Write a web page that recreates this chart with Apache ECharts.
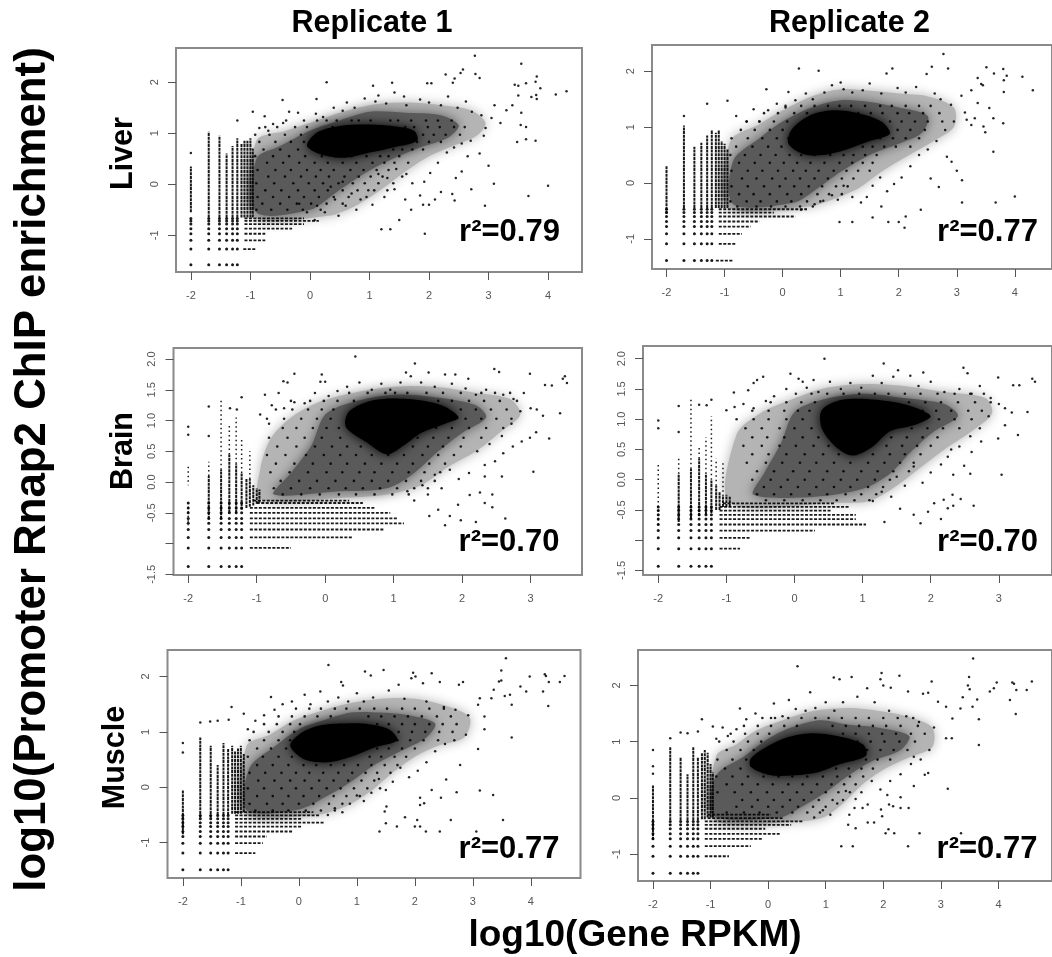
<!DOCTYPE html>
<html>
<head>
<meta charset="utf-8">
<title>Rnap2 ChIP vs RPKM</title>
<style>html,body{margin:0;background:#fff}#main{width:1052px;height:957px}</style>
<script src="https://cdn.jsdelivr.net/npm/echarts@6/dist/echarts.min.js"></script>
</head>
<body>
<div id="main"></div>
<script>
// discrete low-count x positions shared by every panel
var lowCounts = [-2, -1.7, -1.52, -1.4, -1.3, -1.22];
var ticksWide = [-2, -1, 0, 1, 2, 3, 4];
var ticksNarrow = [-2, -1, 0, 1, 2, 3];
var ticksY = [-1, 0, 1, 2];
var ticksBrainY = [-1.5, -1, -0.5, 0, 0.5, 1, 1.5, 2];
var brainYLabels = [-1.5, -0.5, 0, 0.5, 1, 1.5, 2];
var rowTitles = ['Liver', 'Brain', 'Muscle'];
var colTitles = ['Replicate 1', 'Replicate 2'];
var r2Values = ['0.79', '0.77', '0.70', '0.70', '0.77', '0.77'];

// outer / inner / core are the density outlines of each cloud

// ---- Liver, replicate 1
var liver1Levels = [-1.58, -1.27, -1.1, -0.97, -0.87, -0.78, -0.72, -0.67];
var liver1Columns = [[-2,-.55,.35],[-1.7,-.65,1.03],[-1.52,-.65,.95],[-1.4,-.65,.6],[-1.3,-.65,.75],[-1.22,-.65,.9],[-1.15,-.65,.8],[-1.1,-.65,.85],[-1.05,-.65,.85],[-1,-.65,.9],[-.96,-.65,.7]];
var liver1Rows = [[-.67,-1.1,-.1],[-.72,-1.1,.15],[-.78,-1.1,-.1],[-.87,-1.1,-.3],[-.97,-1.1,-.75],[-1.1,-1.1,-.75],[-1.27,-1.12,-.9]];
var liver1Outer = [[-.95,-.62],[.3,-.62],[.8,-.4],[1.2,-.1],[1.6,.25],[2,.55],[2.4,.75],[2.8,.95],[2.95,1.2],[2.7,1.45],[2.2,1.55],[1.6,1.6],[1,1.55],[.5,1.4],[0,1.2],[-.4,1.05],[-.9,.85]];
var liver1Inner = [[-.9,-.55],[0,-.5],[.45,-.15],[.9,.2],[1.3,.45],[1.8,.7],[2.3,.9],[2.5,1.15],[2.2,1.35],[1.6,1.4],[1,1.42],[.5,1.25],[0,1.05],[-.5,.75],[-.9,.5]];
var liver1Core = [[-.05,.75],[.2,.58],[.6,.52],[1,.62],[1.4,.72],[1.8,.85],[1.75,1.05],[1.3,1.15],[.8,1.17],[.4,1.12],[.1,1]];
var liver1Grain = [[1.25,[-.4,.12,.28,.45,.7,.82,1.02,1.35,1.48,1.7,1.95,2.15,2.38]],[1.12,[-.75,-.55,-.25,-.05,.38,.58,.9,1.6,1.75,1.98,2.18,2.42,2.6]],[.97,[-.92,-.68,-.42,-.15,1.72,1.9,2.08,2.28,2.52]],[.83,[-.85,-.58,-.32,-.1,1.62,1.8,2,2.2]],[.68,[-.78,-.5,-.2,.05,1.4,1.55,1.72,1.9]],[.55,[-.92,-.62,-.35,-.08,.2,.42,.7,.95,1.18,1.32,1.5]],[.42,[-.72,-.45,-.18,.08,.3,.55,.78,1.05,1.25,1.42,1.65]],[.28,[-.88,-.58,-.32,-.05,.18,.4,.68,.9,1.12,1.32]],[.15,[-.7,-.42,-.15,.1,.32,.58,.82,1.02,1.22,1.55]],[.02,[-.9,-.6,-.28,-.02,.22,.48,.72,.92,1.15,1.4]],[-.12,[-.75,-.48,-.2,.08,.3,.55,.8,1.08,1.3]],[-.25,[-.88,-.62,-.35,-.1,.15,.4,.65,.95]],[-.38,[-.8,-.5,-.22,.02,.28,.55]],[-.5,[-.9,-.65,-.38,-.12,.18]]];
var liver1Dots = [[2.77,2.52],[3.55,2.36],[2.57,2.25],[2.53,2.18],[2.28,2.15],[2.43,2.07],[2.4,1.99],[2.78,2.16],[2.85,2.08],[3.81,2.11],[3.79,2.01],[3.63,1.98],[3.44,1.95],[3.5,1.93],[3.87,1.88],[4.31,1.82],[4.13,1.76],[3.8,1.75],[3.72,1.71],[3.81,1.67],[3.5,1.74],[.28,2],[1.06,1.93],[1.38,1.99],[1.97,1.98],[2.04,1.98],[-.46,1.65],[.11,1.67],[-.96,1.42],[-.76,1.33],[-1.22,1.25],[-2,.61],[4,-.03],[3.67,-.23],[3.09,.01],[3,.36],[2.94,-.42],[2.71,-.1],[2.39,-.19],[2.43,-.32],[3.48,.83],[3.63,.88],[3.79,.85],[3.63,1.12],[3.54,1.16],[3.55,1.4],[3.4,1.55],[3.1,1.55],[3.3,1.45],[3.2,1.2],[3.05,1.3],[2.95,1.1],[2.85,.6],[2.65,.55],[2.45,.12],[2.55,.25],[2.2,-.15],[2.1,-.3],[2,-.4],[1.9,-.4],[1.7,-.5],[1.6,-.3],[1.5,-.7],[1.35,-.88],[1.2,-.88],[1.93,-.97],[-.85,1.1],[-.7,1.05],[-.62,1.18],[-.45,1.2],[-.35,1.42],[-.2,1.4],[-.1,1.25],[.1,1.38],[.22,1.32],[.4,1.5],[.55,1.44],[.62,1.6],[.75,1.5],[.92,1.68],[1.1,1.62],[1.15,1.74],[1.28,1.58],[1.42,1.8],[1.58,1.72],[1.62,1.55],[1.85,1.66],[2,1.6],[2.2,1.55],[2.32,1.72],[2.48,1.5],[2.62,1.62],[2.72,1.42],[2.88,1.35],[2.92,.95],[2.7,.85],[2.55,.8],[2.42,.72],[2.3,.62],[2.15,.42],[2.02,.22],[1.92,.05],[1.85,-.22],[1.72,.02],[1.62,.2],[1.45,.3],[1.42,-.1],[1.3,.12],[1.25,-.25],[1.15,.2],[1.05,-.4],[.98,-.12],[.85,-.3],[.78,-.5],[.7,-.18],[.6,-.42],[.48,-.62],[.42,-.3],[.25,-.55],[.12,-.42],[.08,-.7],[-.05,-.55],[-.18,-.38],[.35,-.05],[.55,.05]];

// ---- Liver, replicate 2
var liver2Levels = [-1.39, -1.09, -0.91, -0.78, -0.69, -0.6, -0.53, -0.47];
var liver2Columns = [[-2,-.55,.3],[-1.7,-.45,1.03],[-1.52,-.45,.65],[-1.4,-.45,.72],[-1.3,-.45,.85],[-1.22,-.45,.95],[-1.15,-.45,.9],[-1.1,-.45,.95],[-1.05,-.45,.75],[-1,-.45,.7],[-.95,-.45,.6]];
var liver2Rows = [[-.47,-1.1,.42],[-.53,-1.1,-.15],[-.6,-1.1,.22],[-.69,-1.1,-.4],[-.78,-1.1,-.55],[-.91,-1.1,-.7],[-1.09,-1.1,-.8],[-1.39,-1.15,-.85]];
var liver2Outer = [[-.95,-.42],[.45,-.42],[.85,-.3],[1.3,-.1],[1.7,.2],[2.1,.45],[2.6,.75],[2.95,1],[2.95,1.35],[2.5,1.55],[2,1.6],[1.5,1.65],[1,1.68],[.5,1.55],[0,1.3],[-.4,1.05],[-.9,.75]];
var liver2Inner = [[-.85,-.38],[.2,-.35],[.6,-.1],[1,.2],[1.5,.5],[2,.7],[2.4,.9],[2.5,1.2],[2,1.35],[1.5,1.45],[1,1.48],[.5,1.35],[0,1.1],[-.4,.8],[-.85,.4]];
var liver2Core = [[.1,.7],[.35,.52],[.7,.5],[1.1,.6],[1.5,.75],[1.85,.88],[1.7,1.1],[1.3,1.25],[.85,1.3],[.45,1.2],[.15,.95]];
var liver2Grain = [[1.38,[.05,.32,.55,.78,.98,1.18,1.42,1.68,1.88,2.12,2.35,2.55]],[1.25,[-.32,-.08,.2,.42,1.3,1.52,1.72,1.98,2.18,2.42,2.7]],[1.1,[-.62,-.4,-.15,.08,1.45,1.65,1.85,2.05,2.28,2.5,2.75]],[.95,[-.72,-.48,-.22,0,1.6,1.78,1.98,2.2,2.45]],[.8,[-.88,-.6,-.35,-.1,.1,1.5,1.68,1.9,2.12,2.35]],[.65,[-.8,-.52,-.25,-.02,1.38,1.55,1.75,1.95,2.2]],[.5,[-.9,-.65,-.38,-.12,.12,.32,.55,.82,1.05,1.22,1.42,1.62]],[.36,[-.75,-.48,-.22,.02,.25,.48,.72,.98,1.2,1.38,1.55]],[.22,[-.88,-.6,-.35,-.08,.18,.4,.62,.88,1.1,1.3,1.5]],[.08,[-.7,-.45,-.18,.05,.3,.55,.78,1.02,1.22]],[-.06,[-.88,-.6,-.32,-.05,.2,.45,.68,.92,1.12]],[-.2,[-.75,-.5,-.22,.08,.32,.6,.8,1.02]],[-.33,[-.9,-.62,-.38,-.1,.15,.42,.65]],[-.42,[-.78,-.45,-.2,.05,.3,.52]]];
var liver2Dots = [[2.77,2.31],[3.51,2.07],[2.57,2.08],[.28,2.05],[.62,2.01],[1.89,2.05],[1.79,1.96],[2.85,2.05],[3.64,1.96],[3.8,2.04],[3.86,1.92],[3.81,1.84],[4.13,1.9],[3.36,1.88],[3.42,1.77],[3.45,1.75],[4.31,1.66],[3.81,1.63],[3.25,1.66],[3.08,1.56],[3.36,1.43],[3.14,1.26],[3.17,1.13],[3.31,1.16],[3.25,1.04],[3.46,1.01],[3.49,.91],[3.8,1.07],[3.63,1.16],[3.56,1.34],[3.63,.56],[4,-.24],[3.67,-.35],[3.09,.05],[3.09,-.35],[3,.22],[2.83,.47],[2.91,.38],[2.69,-.07],[2.55,.08],[2.38,-.48],[-1.7,1.2],[-1.3,1.42],[-.95,1.47],[-.28,1.68],[.1,1.63],[-.8,1.2],[-.62,1.1],[-.5,1.32],[-.4,1.1],[-.25,1.3],[-.1,1.42],[.05,1.35],[.22,1.48],[.4,1.6],[.52,1.5],[.72,1.62],[.85,1.75],[1,1.8],[1.05,1.68],[1.2,1.62],[1.38,1.66],[1.5,1.78],[1.7,1.6],[1.98,1.7],[2.12,1.62],[2.3,1.72],[2.48,1.95],[2.62,1.6],[2.72,1.5],[2.9,1.4],[2.95,1.1],[2.8,.95],[2.65,.75],[2.5,.6],[2.35,.5],[2.2,.3],[2.05,.1],[1.92,-.02],[1.8,-.15],[1.68,.1],[1.55,-.05],[1.45,-.25],[1.35,-.35],[1.2,-.25],[1.05,-.05],[.95,-.3],[.85,-.22],[.7,-.32],[.55,-.38],[.32,-.48],[1.7,-.42],[1.82,-.7],[2,-.7],[2.1,-.8],[2.12,-.6],[1.55,-.62],[1.2,-.7],[.98,-.7]];

// ---- Brain, replicate 1
var brain1Levels = [-1.37, -1.07, -0.9, -0.77, -0.67, -0.59, -0.5, -0.42, -0.34];
var brain1Columns = [[-1.7,-.6,.1],[-1.52,-.6,.2],[-1.4,-.5,.45],[-1.3,-.5,.3],[-1.22,-.45,.15],[-1.15,-.42,.05],[-1.1,-.4,.05],[-1.05,-.38,-.05],[-1,-.35,-.1],[-.96,-.33,-.12]];
var brain1ColumnsThin = [[-2,-.4,-.7],[-2,.25,-.05],[-1.7,.1,.33],[-1.52,.2,1.35],[-1.4,.45,.95],[-1.3,.3,1.05],[-1.22,.15,.7],[-1.1,.05,.5]];
var brain1Rows = [[-.3,-1.05,.35],[-.34,-1,.55],[-.42,-1.1,.72],[-.5,-1.1,.95],[-.59,-1.1,1.05],[-.67,-1.1,1.15],[-.77,-1.1,.85],[-.9,-1.1,.4],[-1.07,-1.1,-.5]];
var brain1Outer = [[-.95,-.28],[.3,-.25],[.9,-.2],[1.4,-.05],[1.8,.25],[2.2,.5],[2.6,.85],[2.85,1.1],[2.7,1.35],[2.2,1.45],[1.6,1.55],[1,1.55],[.4,1.45],[-.1,1.3],[-.5,1.05],[-.8,.7],[-.95,.2]];
var brain1Inner = [[-.75,-.2],[.2,-.15],[.9,-.1],[1.3,.15],[1.65,.5],[2,.8],[2.35,1.05],[2.2,1.25],[1.6,1.38],[1,1.42],[.4,1.3],[0,1.1],[-.2,.6],[-.5,.15]];
var brain1Core = [[.3,.9],[.6,.65],[.9,.45],[1.15,.6],[1.4,.8],[1.75,.95],[1.95,1.05],[1.7,1.25],[1.2,1.35],[.7,1.33],[.35,1.15]];
var brain1Grain = [[1.45,[.35,.62,.88,1.02,1.2,1.48,1.72,1.98,2.28,2.48,2.7]],[1.32,[-.5,-.22,-.02,.18,.42,1.65,1.85,2.1,2.32,2.55,2.8]],[1.18,[-.72,-.48,-.25,-.05,.12,1.78,1.98,2.2,2.42,2.65]],[1.03,[-.85,-.6,-.35,-.12,.08,1.8,2.05,2.28,2.5,2.72]],[.88,[-.62,-.42,-.18,.02,.2,1.62,1.85,2.1,2.35,2.6]],[.72,[-.82,-.55,-.3,-.05,.22,1.35,1.58,1.8,2.02,2.28]],[.58,[-.7,-.42,-.15,.1,.32,.52,1.28,1.5,1.72,1.98]],[.44,[-.85,-.58,-.28,-.02,.22,.45,.68,.92,1.15,1.42,1.65,1.88]],[.3,[-.72,-.45,-.18,.08,.32,.58,.82,1.05,1.28,1.52,1.75]],[.16,[-.8,-.52,-.25,.02,.25,.5,.72,.98,1.22,1.45,1.68]],[.02,[-.65,-.38,-.12,.15,.42,.68,.92,1.18,1.4,1.6]],[-.1,[-.75,-.5,-.22,.05,.3,.55,.8,1.05,1.3,1.5]],[-.2,[-.62,-.35,-.08,.2,.45,.72,.98,1.22]]];
var brain1Dots = [[.44,2.04],[1.31,1.93],[-.45,1.76],[-.61,1.64],[-.55,1.62],[-.05,1.75],[-.07,1.63],[0,1.63],[1.18,1.78],[1.51,1.78],[1.75,1.75],[1.9,1.75],[2.09,1.68],[2.47,1.84],[2.54,1.79],[2.99,1.76],[3.5,1.72],[3.47,1.68],[3.53,1.61],[3.21,1.58],[3.31,1.57],[3.43,1.12],[3.18,1.08],[3.09,1.18],[3.27,.71],[3.08,.81],[3.04,.17],[2.63,-.59],[2.58,.09],[2.33,.09],[2.44,-.2],[2.26,-.17],[2.33,-.34],[2.44,-.41],[2.11,-.21],[1.94,-.37],[2.87,.66],[2.99,.72],[2.74,.58],[2.6,.47],[2.48,.34],[2.33,.28],[-2,.9],[-2,.77],[-1.7,1.23],[-1.7,.75],[-1.39,1.2],[-1.22,1.38],[-1.29,1.18],[-.88,1.42],[-.68,1.45],[-.95,1.1],[-.82,.95],[-.78,1.25],[-.6,1.2],[-.45,1.3],[-.3,1.28],[-.15,1.45],[.05,1.4],[.18,1.48],[.32,1.55],[.5,1.62],[.68,1.5],[.82,1.6],[.95,1.5],[1.1,1.62],[1.25,1.72],[1.4,1.62],[1.6,1.55],[1.85,1.6],[2.05,1.52],[2.2,1.42],[2.35,1.5],[2.6,1.42],[2.75,1.35],[2.9,1.45],[3,1.2],[2.85,1.15],[2.72,.95],[2.58,.75],[2.4,.62],[2.22,.5],[2.1,.15],[1.95,.05],[1.82,.2],[1.7,-.1],[1.6,.12],[1.5,-.2],[1.42,-.05],[1.3,-.3],[1.2,-.15],[1.82,-.55],[1.65,-.45],[1.52,-.55],[1.98,-.62],[2.2,-.65],[1.75,-.7]];

// ---- Brain, replicate 2
var brain2Levels = [-1.43, -1.14, -0.96, -0.84, -0.74, -0.65, -0.58, -0.51, -0.45];
var brain2Columns = [[-1.7,-.7,.1],[-1.52,-.65,.18],[-1.4,-.6,.35],[-1.3,-.58,.1],[-1.22,-.55,0],[-1.15,-.5,-.1],[-1.1,-.5,-.2],[-1.05,-.45,-.25],[-1,-.45,-.25],[-.95,-.45,-.28]];
var brain2ColumnsThin = [[-2,-.75,.28],[-1.7,.1,.35],[-1.52,.18,1.35],[-1.4,.35,.55],[-1.3,.1,.7],[-1.22,0,1.05],[-1.15,-.1,.35],[-1.05,-.2,.3]];
var brain2Rows = [[-.39,-1.05,.6],[-.45,-1.1,.8],[-.51,-1.1,.55],[-.58,-1.1,.9],[-.65,-1.1,.9],[-.74,-1.1,1.05],[-.84,-1.1,.3],[-.96,-1.1,-.65],[-1.14,-1.1,-.8]];
var brain2Outer = [[-.95,-.38],[.6,-.38],[1.1,-.35],[1.5,-.1],[1.85,.2],[2.2,.5],[2.6,.8],[2.9,1.1],[2.8,1.35],[2.2,1.45],[1.6,1.55],[1,1.58],[.4,1.5],[-.1,1.3],[-.5,1.1],[-.85,.75]];
var brain2Inner = [[-.6,-.25],[.3,-.28],[1,-.15],[1.4,.1],[1.7,.45],[2.05,.8],[2.4,1.05],[2.2,1.25],[1.6,1.35],[1,1.42],[.4,1.32],[0,1.12],[-.2,.6],[-.45,.1]];
var brain2Core = [[.4,.85],[.6,.55],[.85,.4],[1.15,.55],[1.4,.8],[1.75,.9],[2,1.05],[1.7,1.22],[1.2,1.32],[.7,1.32],[.4,1.15]];
var brain2Grain = [[1.42,[.25,.48,.72,.95,1.18,1.38,1.62,1.85,2.1,2.35,2.58,2.78]],[1.28,[-.35,-.12,.1,.3,1.68,1.92,2.15,2.4,2.65,2.88]],[1.14,[-.62,-.38,-.15,.05,.22,1.88,2.08,2.3,2.55,2.75]],[1,[-.85,-.6,-.38,-.12,.12,1.9,2.12,2.35,2.6]],[.85,[-.72,-.48,-.22,0,.25,1.72,1.95,2.18,2.42]],[.7,[-.62,-.4,-.15,.12,.35,1.42,1.65,1.88,2.1]],[.56,[-.75,-.48,-.22,.02,.28,.5,1.35,1.58,1.8,2]],[.42,[-.62,-.38,-.12,.15,.42,.65,.9,1.15,1.4,1.62,1.85]],[.28,[-.7,-.42,-.18,.08,.32,.58,.82,1.08,1.32,1.55,1.75]],[.14,[-.55,-.3,-.02,.22,.48,.72,.98,1.22,1.45,1.68]],[0,[-.62,-.35,-.1,.15,.42,.68,.92,1.18,1.4]],[-.12,[-.45,-.2,.05,.32,.58,.82,1.08,1.3]],[-.24,[-.55,-.3,-.05,.22,.48,.75,.98,1.2]],[-.34,[-.42,-.15,.12,.38,.62,.88,1.1]]];
var brain2Dots = [[.44,2],[1.31,1.92],[-.46,1.7],[-.6,1.6],[-.55,1.65],[-.06,1.75],[.06,1.67],[.12,1.62],[.28,1.65],[1.52,1.81],[1.89,1.77],[2.48,1.85],[2.54,1.76],[2.99,1.69],[3.49,1.67],[3.53,1.62],[3.21,1.56],[3.3,1.56],[3.42,1.12],[3.19,1.11],[3.09,1.18],[3.28,.74],[3.09,.9],[2.99,.68],[3.04,.08],[2.58,.1],[2.63,-.43],[2.44,-.32],[2.32,-.25],[2.25,-.47],[2.33,-.43],[2.49,.23],[2.33,.08],[2.74,.63],[2.6,.46],[2.25,.38],[2.19,-.33],[2.05,-.39],[1.96,-.53],[-2,.98],[-2,.85],[-1.7,1.22],[-1.7,.79],[-1.4,1.24],[-1.22,1.32],[-1.29,1.23],[-.89,1.44],[-.68,1.48],[-1,1.15],[-.88,1.2],[-.75,1.25],[-.6,1.18],[-.42,1.3],[-.3,1.38],[-.12,1.5],[.02,1.42],[.18,1.52],[.35,1.45],[.52,1.62],[.68,1.5],[.82,1.6],[.98,1.52],[1.15,1.72],[1.28,1.6],[1.45,1.7],[1.7,1.72],[1.82,1.55],[2,1.62],[2.2,1.45],[2.42,1.5],[2.6,1.42],[2.72,1.55],[2.88,1.35],[3,1.25],[2.85,1.05],[2.72,.85],[2.58,.72],[2.42,.55],[2.3,.5],[2.15,.25],[2,.12],[1.88,-.05],[1.75,.22],[1.62,-.1],[1.5,.05],[1.42,-.28],[1.28,-.2],[1.15,-.35],[1.55,-.48],[1.75,-.58],[1.85,-.72],[2.15,-.65],[1.32,-.7]];

// ---- Muscle, replicate 1
var muscle1Levels = [-1.49, -1.19, -1.01, -0.89, -0.8, -0.71, -0.64, -0.57, -0.51];
var muscle1Columns = [[-2,-.85,-.05],[-1.7,-.55,.9],[-1.52,-.55,.75],[-1.4,-.5,.4],[-1.3,-.5,.8],[-1.22,-.5,.7],[-1.15,-.48,.75],[-1.1,-.48,.65],[-1.05,-.48,.7],[-1,-.48,.75],[-.95,-.45,.6]];
var muscle1Rows = [[-.45,-1.1,.25],[-.51,-1.1,.35],[-.57,-1.1,.05],[-.64,-1.1,.45],[-.71,-1.1,.05],[-.8,-1.1,-.1],[-.89,-1.1,-.55],[-1.01,-1.1,-.62],[-1.19,-1.1,-.75]];
var muscle1Outer = [[-.95,-.45],[.3,-.5],[.8,-.35],[1.2,-.1],[1.6,.25],[2,.55],[2.4,.75],[2.85,.9],[2.95,1.25],[2.6,1.45],[2,1.6],[1.4,1.6],[.8,1.5],[.3,1.35],[-.1,1.2],[-.5,.95],[-.9,.75]];
var muscle1Inner = [[-.9,-.42],[0,-.4],[.5,-.15],[.9,.1],[1.3,.4],[1.75,.65],[2.2,.9],[2.35,1.15],[1.9,1.3],[1.4,1.35],[.9,1.35],[.4,1.2],[0,1.05],[-.4,.75],[-.85,.35]];
var muscle1Core = [[-.15,.75],[.1,.5],[.5,.45],[.9,.55],[1.3,.72],[1.7,.85],[1.55,1.05],[1.1,1.15],[.7,1.15],[.3,1.1],[0,.95]];
var muscle1Grain = [[1.42,[-.05,.18,.38,.62,.82,1.05,1.3,1.52,1.78,2,2.25,2.5]],[1.28,[-.35,-.12,.1,.32,.55,1.2,1.42,1.65,1.88,2.12,2.38,2.62]],[1.14,[-.6,-.38,-.15,.02,1.35,1.55,1.78,2,2.25,2.48,2.72]],[1,[-.78,-.52,-.28,-.08,1.52,1.72,1.95,2.18,2.42,2.65]],[.85,[-.85,-.6,-.35,-.15,1.5,1.7,1.92,2.15,2.4]],[.7,[-.72,-.48,-.22,1.35,1.55,1.78,2]],[.55,[-.88,-.62,-.35,-.12,.12,.35,.58,.82,1.22,1.42,1.65,1.85]],[.4,[-.72,-.45,-.18,.08,.3,.55,.78,1.02,1.25,1.48,1.7]],[.26,[-.85,-.58,-.3,-.05,.18,.42,.68,.92,1.15,1.35,1.58]],[.12,[-.7,-.42,-.15,.1,.35,.6,.85,1.08,1.3]],[-.02,[-.88,-.6,-.3,-.05,.22,.48,.72,.95,1.18,1.4]],[-.16,[-.72,-.45,-.18,.08,.35,.6,.82,1.05]],[-.3,[-.85,-.55,-.28,0,.25,.52,.75]],[-.42,[-.75,-.45,-.18,.12,.38,.62]]];
var muscle1Dots = [[3.57,2.33],[.51,2.21],[3.49,2.11],[3.49,1.93],[3.45,1.91],[1.14,2.09],[1.46,2.12],[1.24,2.02],[1.97,2.07],[2.29,2.06],[1.94,1.97],[2.01,2],[2.14,1.88],[2.43,1.9],[2.83,1.9],[2.76,1.85],[3.98,2],[4.24,2.04],[4.26,2.01],[4.31,1.9],[4.5,1.9],[4.58,2.01],[4.21,1.73],[3.92,1.73],[3.82,1.82],[4.3,1.47],[3.67,1.49],[3.67,.9],[3.64,1.67],[3.55,1.65],[3.36,1.76],[3.32,1.61],[3.12,1.61],[3.09,1.49],[3.2,1.28],[3.2,1.05],[3.09,.69],[2.78,.4],[3.12,-.06],[3.35,-.14],[2.72,-.09],[2.54,.14],[2.29,-.05],[2.45,-.19],[2.09,-.19],[2.09,-.32],[2.16,-.29],[2.62,-.59],[3.52,-.59],[3.06,-.8],[2.43,-.8],[2.19,-.8],[2,-.71],[2.09,-.71],[2.04,-.59],[1.83,-.54],[1.69,-.71],[1.39,-.8],[1.5,-.65],[1.48,-.44],[1.51,-.35],[-.48,1.63],[-1.16,1.45],[-.95,1.33],[-1.21,1.22],[-1.4,1.2],[-1.53,1.19],[-1.7,1.17],[-2,.8],[-2,.63],[.73,1.9],[.76,1.84],[.37,1.73],[.1,1.67],[-.88,1.05],[-.75,1.2],[-.6,1.3],[-.42,1.4],[-.28,1.5],[-.12,1.55],[.2,1.5],[.5,1.55],[.68,1.62],[.85,1.55],[1,1.7],[1.12,1.55],[1.28,1.62],[1.55,1.75],[1.72,1.85],[1.82,1.6],[2.2,1.55],[2.5,1.45],[2.7,1.4],[2.92,1.3],[2.88,.95],[2.68,.85],[2.52,.78],[2.35,.65],[2.2,.45],[2.05,.3],[1.9,.18],[1.75,.35],[1.62,.1],[1.5,-.05],[1.38,.15],[1.25,-.1],[1.12,-.25],[1,-.15],[.88,-.3],[.75,-.45],[.62,-.38],[.5,-.5]];

// ---- Muscle, replicate 2
var muscle2Levels = [-1.34, -1.04, -0.86, -0.73, -0.64, -0.55, -0.48, -0.42];
var muscle2Columns = [[-2,-.75,.22],[-1.7,-.4,.9],[-1.52,-.4,.72],[-1.4,-.4,.42],[-1.3,-.4,.9],[-1.22,-.4,.72],[-1.15,-.38,.8],[-1.1,-.38,.85],[-1.05,-.35,.8],[-1,-.35,.6],[-.96,-.35,.45]];
var muscle2Rows = [[-.3,-1.05,.05],[-.36,-1.05,.25],[-.42,-1.1,.6],[-.48,-1.1,.4],[-.55,-1.1,-.05],[-.64,-1.1,.2],[-.73,-1.1,-.1],[-.86,-1.1,-.3],[-1.04,-1.1,-.68]];
var muscle2Outer = [[-.95,-.38],[.5,-.42],[.95,-.35],[1.3,-.1],[1.65,.25],[2,.5],[2.45,.72],[2.85,.9],[2.85,1.25],[2.4,1.45],[1.9,1.55],[1.4,1.6],[.8,1.55],[.3,1.4],[-.2,1.2],[-.55,.95],[-.9,.75]];
var muscle2Inner = [[-.95,-.32],[.2,-.35],[.6,-.15],[1,.1],[1.4,.4],[1.8,.65],[2.3,.85],[2.45,1.1],[1.9,1.25],[1.4,1.3],[.9,1.38],[.4,1.25],[0,1.05],[-.4,.75],[-.9,.4]];
var muscle2Core = [[-.3,.55],[.05,.4],[.45,.4],[.85,.45],[1.25,.6],[1.7,.75],[1.65,.95],[1.2,1.1],[.75,1.15],[.35,1.08],[0,.92],[-.3,.7]];
var muscle2Grain = [[1.42,[-.1,.12,.35,.58,.82,1.05,1.28,1.52,1.75,2,2.25,2.52]],[1.28,[-.42,-.18,.05,.28,.5,1.12,1.35,1.58,1.82,2.05,2.3,2.6]],[1.14,[-.65,-.4,-.18,.02,1.3,1.52,1.75,1.98,2.22,2.48,2.72]],[1,[-.85,-.6,-.35,-.12,1.35,1.55,1.78,2.02,2.28,2.55]],[.85,[-.72,-.48,-.25,1.3,1.5,1.72,1.95,2.18,2.42]],[.68,[-.88,-.62,-.38,-.15,1.3,1.48,1.7,1.9,2.12]],[.52,[-.75,-.48,-.22,.02,.28,.52,.8,1.18,1.4,1.62,1.82]],[.38,[-.9,-.62,-.35,-.08,.18,.42,.68,.95,1.2,1.42,1.65]],[.24,[-.72,-.45,-.18,.08,.35,.6,.85,1.1,1.32,1.52]],[.1,[-.88,-.58,-.3,-.02,.25,.5,.75,1,1.22,1.42]],[-.04,[-.45,-.18,.1,.38,.62,.88,1.12,1.3]],[-.16,[-.55,-.28,0,.25,.52,.78,1]],[-.26,[-.72,-.42,-.15,.15,.42,.68,.9]]];
var muscle2Dots = [[3.56,2.48],[.51,2.34],[3.49,2.15],[3.47,2],[3.5,1.93],[1.97,2.22],[2.28,2.17],[1.14,2.14],[1.24,2.11],[1.45,2.15],[1.95,2.11],[2,2],[2.13,1.96],[2.84,2.07],[2.43,1.89],[2.69,1.85],[2.78,1.87],[3.97,2.05],[4.24,2.05],[4.27,2.03],[4.31,1.92],[4.49,1.92],[4.58,2.07],[4.2,1.74],[3.85,1.89],[3.92,1.95],[4.3,1.49],[3.66,1.4],[3.66,.94],[3.63,1.75],[3.55,1.62],[3.38,1.79],[3.34,1.59],[2.95,1.71],[3.09,1.62],[3.2,1.41],[3.19,1.06],[3.09,1.06],[3.12,.16],[2.78,.44],[2.72,.41],[2.53,.73],[2.53,.21],[2.07,.05],[2.3,.01],[2.1,-.12],[2.17,-.15],[2.44,-.18],[2.3,-.18],[1.96,-.21],[1.98,-.33],[2.09,-.56],[2.04,-.63],[2.19,-.63],[2.63,-.63],[3.35,-.63],[2.43,-.86],[1.27,-.86],[1.47,-.86],[1.52,-.54],[1.39,-.48],[1.73,-.44],[1.84,-.44],[1.64,-.18],[1.73,-.12],[1.5,-.18],[1.41,-.3],[-.49,1.59],[-.96,1.27],[-1.15,1.4],[-.79,1.25],[-1.22,1.18],[-1.4,1.15],[-1.52,1.16],[-1.7,1.06],[-2,.85],[-2,.56],[-2,.43],[.73,1.88],[.36,1.74],[.1,1.68],[-.9,1.05],[-.7,1.1],[-.55,1.22],[-.38,1.4],[-.22,1.5],[.05,1.42],[.25,1.45],[.48,1.58],[.65,1.55],[.82,1.6],[1,1.7],[1.15,1.55],[1.3,1.7],[1.55,1.8],[1.72,1.95],[1.85,1.7],[2.1,1.55],[2.4,1.45],[2.62,1.35],[2.88,1.25],[2.8,.85],[2.65,.68],[2.48,.6],[2.3,.42],[2.12,.3],[1.95,.15],[1.8,.3],[1.62,.1],[1.52,-.02],[1.35,.12],[1.2,-.1],[1.08,-.3],[.95,-.22],[.8,-.35]];

// layout of the six panels
var layout = [
	{left: 176, top: 48, width: 406, height: 224, x: [-2.25, 4.57], y: [-1.72, 2.67], ticks: ticksWide, labelY: 232, labelX: 509.5},
	{left: 652, top: 45, width: 408, height: 224, x: [-2.25, 4.64], y: [-1.54, 2.47], ticks: ticksWide, labelY: 232, labelX: 987.5},
	{left: 173.5, top: 348, width: 408.5, height: 227, x: [-2.215, 3.75], y: [-1.51, 2.18], ticks: ticksNarrow, labelY: 542, labelX: 509},
	{left: 643, top: 346, width: 417, height: 229, x: [-2.224, 3.78], y: [-1.575, 2.21], ticks: ticksNarrow, labelY: 542, labelX: 987.5},
	{left: 167.5, top: 650, width: 413, height: 228, x: [-2.265, 4.856], y: [-1.64, 2.48], ticks: ticksWide, labelY: 849, labelX: 509},
	{left: 638, top: 650, width: 422, height: 231, x: [-2.26, 4.93], y: [-1.48, 2.63], ticks: ticksWide, labelY: 849, labelX: 987}
];
var panels = [
	{levels: liver1Levels, columns: liver1Columns, thin: [], rows: liver1Rows, outer: liver1Outer, inner: liver1Inner, core: liver1Core, grain: liver1Grain, dots: liver1Dots},
	{levels: liver2Levels, columns: liver2Columns, thin: [], rows: liver2Rows, outer: liver2Outer, inner: liver2Inner, core: liver2Core, grain: liver2Grain, dots: liver2Dots},
	{levels: brain1Levels, columns: brain1Columns, thin: brain1ColumnsThin, rows: brain1Rows, outer: brain1Outer, inner: brain1Inner, core: brain1Core, grain: brain1Grain, dots: brain1Dots},
	{levels: brain2Levels, columns: brain2Columns, thin: brain2ColumnsThin, rows: brain2Rows, outer: brain2Outer, inner: brain2Inner, core: brain2Core, grain: brain2Grain, dots: brain2Dots},
	{levels: muscle1Levels, columns: muscle1Columns, thin: [], rows: muscle1Rows, outer: muscle1Outer, inner: muscle1Inner, core: muscle1Core, grain: muscle1Grain, dots: muscle1Dots},
	{levels: muscle2Levels, columns: muscle2Columns, thin: [], rows: muscle2Rows, outer: muscle2Outer, inner: muscle2Inner, core: muscle2Core, grain: muscle2Grain, dots: muscle2Dots}
];

function segments(i, data, vertical, dash, width) {
	return {
		type: 'custom',
		xAxisIndex: i,
		yAxisIndex: i,
		silent: true,
		animation: false,
		data: data,
		renderItem: function (params, api) {
			var a = vertical ? [api.value(0), api.value(1)] : [api.value(1), api.value(0)];
			var b = vertical ? [api.value(0), api.value(2)] : [api.value(2), api.value(0)];
			var p = api.coord(a);
			var q = api.coord(b);
			return {
				type: 'line',
				shape: {x1: p[0], y1: p[1], x2: q[0], y2: q[1]},
				style: {stroke: '#000', lineWidth: width, lineDash: dash, opacity: 0.9}
			};
		}
	};
}

// one density outline, drawn once through the panel's axes
function outline(i, verts, fill, blur) {
	return {
		type: 'custom',
		xAxisIndex: i,
		yAxisIndex: i,
		silent: true,
		animation: false,
		data: [verts[0]],
		renderItem: function (params, api) {
			return {
				type: 'polygon',
				shape: {points: verts.map(function (v) { return api.coord(v); }), smooth: 0.3},
				style: {fill: fill, shadowColor: fill, shadowBlur: blur}
			};
		}
	};
}

function dotsOf(i, data, size, opacity) {
	return {
		type: 'scatter',
		xAxisIndex: i,
		yAxisIndex: i,
		silent: true,
		animation: false,
		symbolSize: size,
		itemStyle: {color: '#000', opacity: opacity},
		data: data
	};
}

// every low-count column crosses every low level
function crossings(levels) {
	var out = [];
	levels.forEach(function (y) {
		lowCounts.forEach(function (x) {
			out.push([x, y]);
		});
	});
	return out;
}

// grain is kept as [y, [x, x, ...]] bands
function unband(bands) {
	var out = [];
	bands.forEach(function (b) {
		b[1].forEach(function (x) {
			out.push([x, b[0]]);
		});
	});
	return out;
}

var grids = [], xAxes = [], yAxes = [], series = [];
var textColor = '#555';
layout.forEach(function (g, i) {
	var p = panels[i];
	var isBrain = i === 2 || i === 3;
	grids.push({left: g.left, top: g.top, width: g.width, height: g.height, show: true, borderColor: '#8a8a8a', borderWidth: 2, backgroundColor: '#fff'});
	xAxes.push({
		type: 'value', gridIndex: i, min: g.x[0], max: g.x[1],
		splitLine: {show: false},
		axisLine: {show: false, onZero: false},
		axisTick: {length: 8, lineStyle: {color: textColor, width: 1}, customValues: g.ticks},
		axisLabel: {color: textColor, fontSize: 11, fontFamily: 'Liberation Sans', margin: 18, customValues: g.ticks}
	});
	yAxes.push({
		type: 'value', gridIndex: i, min: g.y[0], max: g.y[1],
		splitLine: {show: false},
		axisLine: {show: false, onZero: false},
		axisTick: {length: 8, lineStyle: {color: textColor, width: 1}, customValues: isBrain ? ticksBrainY : ticksY},
		axisLabel: {
			color: textColor, fontSize: 11, fontFamily: 'Liberation Sans', margin: 16, rotate: 90,
			customValues: isBrain ? brainYLabels : ticksY,
			formatter: isBrain ? function (v) { return Number(v).toFixed(1); } : function (v) { return String(v); }
		}
	});
	series.push(outline(i, p.outer, '#b4b4b4', 12));
	series.push(outline(i, p.inner, '#5a5a5a', 12));
	series.push(outline(i, p.core, '#000', 12));
	series.push(segments(i, p.thin, true, [1.5, 3], 1.5));
	series.push(segments(i, p.columns, true, [3, 0.7], 2));
	series.push(segments(i, p.rows, false, [3, 1.5], 1.8));
	series.push(dotsOf(i, crossings(p.levels), 3, 0.9));
	series.push(dotsOf(i, unband(p.grain), 2.6, 0.85));
	series.push(dotsOf(i, p.dots, 2.5, 0.85));
});

function label(text, x, y, size, rotated) {
	return {
		type: 'text', x: x, y: y, z: 100, silent: true,
		rotation: rotated ? Math.PI / 2 : 0,
		style: {text: text, fill: '#000', font: 'bold ' + size + 'px "Liberation Sans", Arial, sans-serif', textAlign: 'center', textVerticalAlign: 'middle', verticalAlign: 'middle'}
	};
}

var texts = [
	label(colTitles[0], 372, 24, 30.5),
	label(colTitles[1], 849.5, 24, 30.5),
	label(rowTitles[0], 123.5, 153.5, 30.5, true),
	label(rowTitles[1], 123.5, 451, 30.5, true),
	label(rowTitles[2], 116, 757.5, 30.5, true),
	label('log10(Promoter Rnap2 ChIP enrichment)', 33, 469.5, 43.8, true),
	label('log10(Gene RPKM)', 635, 936, 37)
];
layout.forEach(function (g, i) {
	texts.push(label('r\u00b2=' + r2Values[i], g.labelX, g.labelY, 31));
});

var chart = echarts.init(document.getElementById('main'), null, {renderer: 'canvas'});
chart.setOption({
	animation: false,
	grid: grids,
	xAxis: xAxes,
	yAxis: yAxes,
	series: series,
	graphic: {elements: texts}
});
</script>
</body>
</html>
